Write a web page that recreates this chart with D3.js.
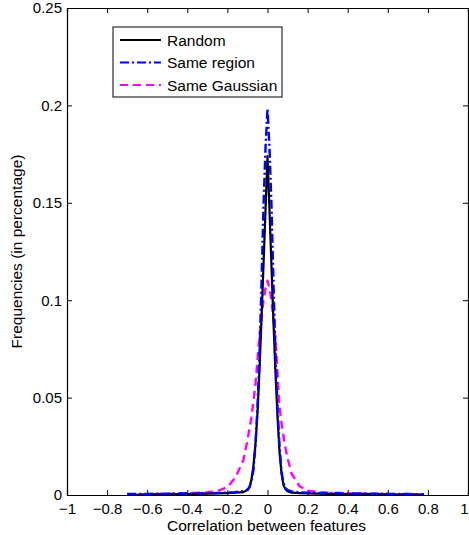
<!DOCTYPE html>
<html>
<head>
<meta charset="utf-8">
<script src="https://cdn.jsdelivr.net/npm/d3@7"></script>
<style>
  html, body { margin: 0; padding: 0; background: #fff; }
  svg { display: block; font-family: "Liberation Sans", Arial, Helvetica, sans-serif; }
</style>
</head>
<body>
<svg id="chart" width="469" height="535"></svg>
<script>
// ---- data ----
const corrX = [-0.7,-0.6,-0.5,-0.4,-0.3,-0.25,-0.2,-0.16,-0.12,-0.1,-0.09,-0.08,-0.07,-0.06,-0.05,-0.04,-0.03,-0.02,-0.01,0,0.01,0.02,0.03,0.04,0.05,0.06,0.07,0.08,0.09,0.1,0.12,0.16,0.2,0.25,0.3,0.4,0.5,0.6,0.7,0.78];
const randomY = [0.0001,0.0002,0.0003,0.0005,0.0007,0.0008,0.001,0.0012,0.0015,0.0025,0.004,0.008,0.015,0.026,0.042,0.064,0.090,0.118,0.146,0.174,0.146,0.117,0.088,0.062,0.040,0.022,0.011,0.005,0.003,0.002,0.0012,0.001,0.0008,0.0007,0.0006,0.0005,0.0004,0.0003,0.0002,0.0001];
const sameRegionY = [0.0005,0.0006,0.0007,0.0008,0.0009,0.001,0.0012,0.0015,0.002,0.0028,0.004,0.007,0.013,0.026,0.045,0.072,0.108,0.148,0.178,0.1985,0.178,0.148,0.108,0.072,0.045,0.025,0.012,0.006,0.0035,0.0025,0.0018,0.0014,0.0012,0.001,0.0009,0.0008,0.0007,0.0006,0.0005,0.0004];
const sameGaussianY = [0.0001,0.0003,0.0006,0.0009,0.0014,0.002,0.004,0.009,0.018,0.028,0.034,0.040,0.048,0.057,0.069,0.082,0.091,0.100,0.106,0.110,0.106,0.100,0.090,0.080,0.062,0.045,0.037,0.030,0.024,0.019,0.011,0.0045,0.0022,0.0015,0.0012,0.0009,0.0007,0.0005,0.0004,0.0002];
const seriesNames = ["Random", "Same region", "Same Gaussian"];
const xTicks = [-1,-0.8,-0.6,-0.4,-0.2,0,0.2,0.4,0.6,0.8,1];
const yTicks = [0,0.05,0.1,0.15,0.2,0.25];

// ---- layout ----
const svg = d3.select("#chart");
const pL = 67, pR = 468, pT = 8, pB = 495;
const x = d3.scaleLinear().domain([-1, 1]).range([pL, pR]);
const y = d3.scaleLinear().domain([0, 0.25]).range([pB, pT]);
const fmt = v => (v < 0 ? "\u2212" : "") + String(Math.abs(v));
const fs = 15;

// axes (ticks inward)
const gx = svg.append("g").attr("transform", `translate(0,${pB})`)
  .call(d3.axisBottom(x).tickValues(xTicks).tickFormat(fmt).tickSize(-5).tickPadding(8));
const gxt = svg.append("g").attr("transform", `translate(0,${pT})`)
  .call(d3.axisTop(x).tickValues(xTicks).tickFormat("").tickSize(-5));
const gy = svg.append("g").attr("transform", `translate(${pL},0)`)
  .call(d3.axisLeft(y).tickValues(yTicks).tickFormat(d => String(d)).tickSize(-5).tickPadding(5));
const gyr = svg.append("g").attr("transform", `translate(${pR},0)`)
  .call(d3.axisRight(y).tickValues(yTicks).tickFormat("").tickSize(-5));
[gx, gxt, gy, gyr].forEach(g => {
  g.selectAll(".domain").attr("stroke", "#000").attr("stroke-width", 1.2);
  g.selectAll(".tick line").attr("stroke", "#000").attr("stroke-width", 1);
  g.selectAll("text").attr("font-size", fs).attr("fill", "#000")
    .attr("font-family", "'Liberation Sans', Arial, sans-serif");
});
// keep the last x tick label ("1") inside the window
gx.selectAll(".tick text").filter(d => d === 1).attr("text-anchor", "end").attr("dx", 0);

// axis titles
svg.append("text").attr("x", (pL + pR) / 2 - 1).attr("y", 531)
  .attr("text-anchor", "middle").attr("font-size", 15.5).text("Correlation between features");
svg.append("text").attr("transform", `translate(22,${(pT + pB) / 2}) rotate(-90)`)
  .attr("text-anchor", "middle").attr("font-size", 15.5).text("Frequencies (in percentage)");

// lines
const styles = [
  { color: "#000000", dash: null, width: 2.2 },
  { color: "#0000ff", dash: "9,3,2,3", width: 2.4 },
  { color: "#ff00ff", dash: "8,5", width: 2.4 }
];
const seriesY = [randomY, sameRegionY, sameGaussianY];
const line = d3.line().x(d => x(d[0])).y(d => y(d[1]));
const plot = svg.append("g");
[2, 0, 1].forEach(i => {
  plot.append("path")
    .datum(corrX.map((v, k) => [v, seriesY[i][k]]))
    .attr("fill", "none")
    .attr("stroke", styles[i].color)
    .attr("stroke-width", styles[i].width)
    .attr("stroke-dasharray", styles[i].dash)
    .attr("stroke-linejoin", "round")
    .attr("d", line);
});

// legend
const lg = svg.append("g");
lg.append("rect").attr("x", 113).attr("y", 27).attr("width", 169).attr("height", 70)
  .attr("fill", "#fff").attr("stroke", "#000").attr("stroke-width", 1);
seriesNames.forEach((name, i) => {
  const yy = 40 + i * 22.5;
  lg.append("line").attr("x1", 120).attr("x2", 161).attr("y1", yy).attr("y2", yy)
    .attr("stroke", styles[i].color).attr("stroke-width", 2.2)
    .attr("stroke-dasharray", styles[i].dash);
  lg.append("text").attr("x", 167).attr("y", yy + 5.5).attr("font-size", 15.5).text(name);
});
</script>
</body>
</html>
